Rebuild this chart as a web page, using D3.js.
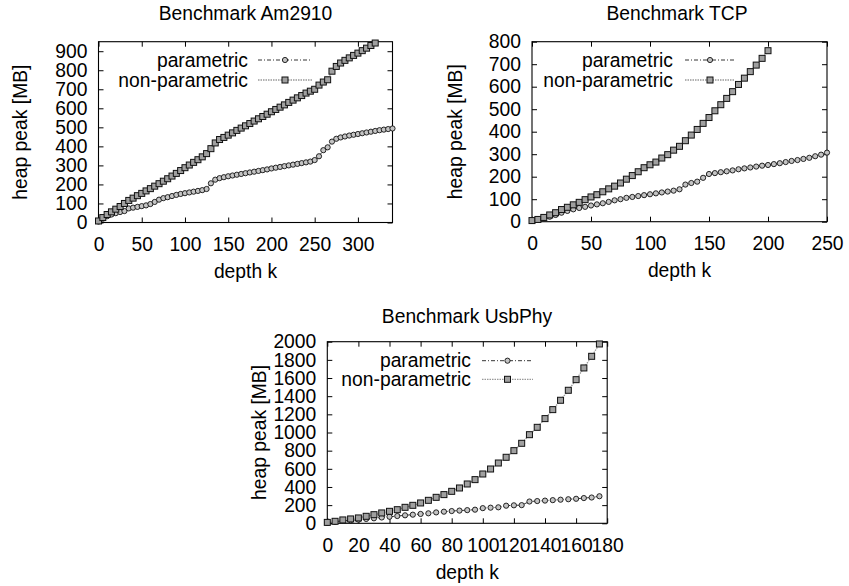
<!DOCTYPE html>
<html lang="en">
<head>
<meta charset="utf-8" />
<title>Heap peak per benchmark</title>
<script src="https://d3js.org/d3.v7.min.js"></script>
<style>
  body { margin: 0; background: #fff; }
  #chart svg { display: block; }
  #chart text { font-family: "Liberation Sans", Arial, Helvetica, sans-serif; font-size: 19.3px; fill: #000; }
  .tick line { stroke: #000; }
</style>
</head>
<body>
<div id="chart"></div>
<script>
// series names (legend)
var seriesNames = ['parametric', 'non-parametric'];

// Benchmark Am2910
var am2910DepthParam = [0,5,10,15,20,25,30,35,40,45,50,55,60,65,70,75,80,85,90,95,100,105,110,115,120,125,130,135,140,145,150,155,160,165,170,175,180,185,190,195,200,205,210,215,220,225,230,235,240,245,250,255,260,265,270,275,280,285,290,295,300,305,310,315,320,325,330,335,340];
var am2910Param = [5,20,33,42,49,55,60,74,78,82,86,90,97,108,120,128,133,139,145,150,154,158,162,166,170,176,206,225,233,238,243,247,251,255,259,263,267,271,275,279,284,288,292,296,300,304,308,312,316,320,328,348,380,395,425,440,447,452,457,461,465,469,473,477,481,485,488,491,494];
var am2910DepthNonParam = [0,5,10,15,20,25,30,35,40,45,50,55,60,65,70,75,80,85,90,95,100,105,110,115,120,125,130,135,140,145,150,155,160,165,170,175,180,185,190,195,200,205,210,215,220,225,230,235,240,245,250,255,260,265,270,275,280,285,290,295,300,305,310,315,320];
var am2910NonParam = [8,26,42,56,70,84,100,116,128,141,153,166,178,191,204,217,230,244,258,273,288,302,316,330,345,362,388,418,436,447,459,471,484,496,508,520,533,545,557,569,582,594,606,618,631,643,655,667,680,690,700,722,738,750,795,820,838,852,865,878,890,903,916,930,943];
var am2910TicksX = [0,50,100,150,200,250,300];
var am2910TicksY = [0,100,200,300,400,500,600,700,800,900];

// Benchmark TCP
var tcpDepthParam = [0,5,10,15,20,25,30,35,40,45,50,55,60,65,70,75,80,85,90,95,100,105,110,115,120,125,130,135,140,145,150,155,160,165,170,175,180,185,190,195,200,205,210,215,220,225,230,235,240,245,250];
var tcpParam = [3,10,17,22,30,40,48,55,61,66,72,77,82,88,95,100,106,110,114,118,122,126,130,134,138,144,165,172,178,195,212,216,220,224,228,233,237,241,245,249,252,256,260,265,270,274,279,284,291,298,307];
var tcpDepthNonParam = [0,5,10,15,20,25,30,35,40,45,50,55,60,65,70,75,80,85,90,95,100,105,110,115,120,125,130,135,140,145,150,155,160,165,170,175,180,185,190,195,200];
var tcpNonParam = [5,10,19,30,40,54,64,75,86,98,110,120,133,146,158,172,189,205,222,240,253,265,283,298,318,335,360,385,410,437,463,493,520,548,578,610,638,667,696,726,760];
var tcpTicksX = [0,50,100,150,200,250];
var tcpTicksY = [0,100,200,300,400,500,600,700,800];

// Benchmark UsbPhy
var usbDepth = [0,5,10,15,20,25,30,35,40,45,50,55,60,65,70,75,80,85,90,95,100,105,110,115,120,125,130,135,140,145,150,155,160,165,170,175];
var usbParam = [5,15,28,32,40,48,55,64,72,80,88,95,103,110,120,128,135,140,145,150,167,172,176,194,198,200,240,245,250,255,260,265,270,278,284,298];
var usbNonParam = [10,22,37,48,59,77,95,114,132,150,176,198,224,253,286,316,352,389,433,481,543,598,664,727,800,881,976,1057,1153,1252,1355,1465,1582,1711,1839,1975];
var usbTicksX = [0,20,40,60,80,100,120,140,160,180];
var usbTicksY = [0,200,400,600,800,1000,1200,1400,1600,1800,2000];

var width = 849, height = 586;

var svg = d3.select('#chart').append('svg')
    .attr('width', width)
    .attr('height', height);

svg.append('rect').attr('width', width).attr('height', height).attr('fill', '#fff');

var panels = [
    {
        title: 'Benchmark Am2910', titleX: 245.5, titleY: 13,
        left: 98.5, right: 392.5, top: 41.7, bottom: 222.5,
        xDomain: [0, 340], yDomain: [0, 950],
        xTicks: am2910TicksX, yTicks: am2910TicksY,
        ylabelX: 20,
        legend: { textX: 248, rows: [60, 80], line: [258, 312] },
        param: [am2910DepthParam, am2910Param],
        nonParam: [am2910DepthNonParam, am2910NonParam]
    },
    {
        title: 'Benchmark TCP', titleX: 677, titleY: 13,
        left: 532, right: 827, top: 41.7, bottom: 221.7,
        xDomain: [0, 250], yDomain: [0, 800],
        xTicks: tcpTicksX, yTicks: tcpTicksY,
        ylabelX: 455,
        legend: { textX: 673, rows: [60, 80], line: [685, 735] },
        param: [tcpDepthParam, tcpParam],
        nonParam: [tcpDepthNonParam, tcpNonParam]
    },
    {
        title: 'Benchmark UsbPhy', titleX: 467, titleY: 316.7,
        left: 327.3, right: 607.2, top: 341.7, bottom: 523.3,
        xDomain: [0, 180], yDomain: [0, 2000],
        xTicks: usbTicksX, yTicks: usbTicksY,
        ylabelX: 259,
        legend: { textX: 471, rows: [360.7, 379.3], line: [482, 533] },
        param: [usbDepth, usbParam],
        nonParam: [usbDepth, usbNonParam]
    }
];

var styles = [
    { stroke: '#000', width: 0.8, dash: '4,2,1,2', marker: 'circle' },
    { stroke: '#999', width: 1.3, dash: '1.5,1', marker: 'square' }
];

function drawMarker(g, type, cx, cy) {
    if (type === 'circle') {
        g.append('circle')
            .attr('cx', cx).attr('cy', cy).attr('r', 2.6)
            .attr('fill', '#c4c4c4').attr('stroke', '#111').attr('stroke-width', 0.9);
    } else {
        g.append('rect')
            .attr('x', cx - 3).attr('y', cy - 3)
            .attr('width', 6).attr('height', 6)
            .attr('fill', '#a0a0a0').attr('stroke', '#111').attr('stroke-width', 1);
    }
}

function drawPanel(p) {
    var x = d3.scaleLinear().domain(p.xDomain).range([p.left, p.right]);
    var y = d3.scaleLinear().domain(p.yDomain).range([p.bottom, p.top]);
    var g = svg.append('g');

    // axes, ticks pointing inward like gnuplot
    g.append('g')
        .attr('transform', 'translate(0,' + p.bottom + ')')
        .call(d3.axisBottom(x).tickValues(p.xTicks).tickSize(-5).tickSizeOuter(0).tickPadding(15).tickFormat(d3.format('d')));
    g.append('g')
        .attr('transform', 'translate(0,' + p.top + ')')
        .call(d3.axisTop(x).tickValues(p.xTicks).tickSize(-5).tickSizeOuter(0).tickFormat(''));
    g.append('g')
        .attr('transform', 'translate(' + p.left + ',0)')
        .call(d3.axisLeft(y).tickValues(p.yTicks).tickSize(-5).tickSizeOuter(0).tickPadding(11).tickFormat(d3.format('d')));
    g.append('g')
        .attr('transform', 'translate(' + p.right + ',0)')
        .call(d3.axisRight(y).tickValues(p.yTicks).tickSize(-5).tickSizeOuter(0).tickFormat(''));
    g.selectAll('.domain').remove();
    g.selectAll('.tick text').attr('font-size', null).attr('font-family', null);

    g.append('rect')
        .attr('x', p.left).attr('y', p.top)
        .attr('width', p.right - p.left).attr('height', p.bottom - p.top)
        .attr('fill', 'none').attr('stroke', '#000').attr('stroke-width', 1.1);

    // titles and axis labels
    g.append('text')
        .attr('x', p.titleX).attr('y', p.titleY).attr('dy', '0.35em')
        .attr('text-anchor', 'middle').text(p.title);
    g.append('text')
        .attr('x', (p.left + p.right) / 2).attr('y', p.bottom + 49).attr('dy', '0.35em')
        .attr('text-anchor', 'middle').text('depth k');
    g.append('text')
        .attr('transform', 'translate(' + p.ylabelX + ',' + ((p.top + p.bottom) / 2) + ') rotate(-90)')
        .attr('dy', '0.35em')
        .attr('text-anchor', 'middle').text('heap peak [MB]');

    var line = d3.line()
        .x(function(d) { return x(d[0]); })
        .y(function(d) { return y(d[1]); });

    [p.param, p.nonParam].forEach(function(s, i) {
        var st = styles[i];
        var pts = d3.zip(s[0], s[1]);
        g.append('path')
            .datum(pts)
            .attr('d', line)
            .attr('fill', 'none')
            .attr('stroke', st.stroke)
            .attr('stroke-width', st.width)
            .attr('stroke-dasharray', st.dash);
        var mg = g.append('g');
        pts.forEach(function(d) {
            drawMarker(mg, st.marker, x(d[0]), y(d[1]));
        });

        // legend entry
        var ly = p.legend.rows[i];
        g.append('text')
            .attr('x', p.legend.textX).attr('y', ly).attr('dy', '0.35em')
            .attr('text-anchor', 'end').text(seriesNames[i]);
        g.append('line')
            .attr('x1', p.legend.line[0]).attr('x2', p.legend.line[1])
            .attr('y1', ly).attr('y2', ly)
            .attr('stroke', st.stroke)
            .attr('stroke-width', st.width)
            .attr('stroke-dasharray', st.dash);
        drawMarker(g, st.marker, (p.legend.line[0] + p.legend.line[1]) / 2, ly);
    });
}

panels.forEach(drawPanel);
</script>
</body>
</html>
